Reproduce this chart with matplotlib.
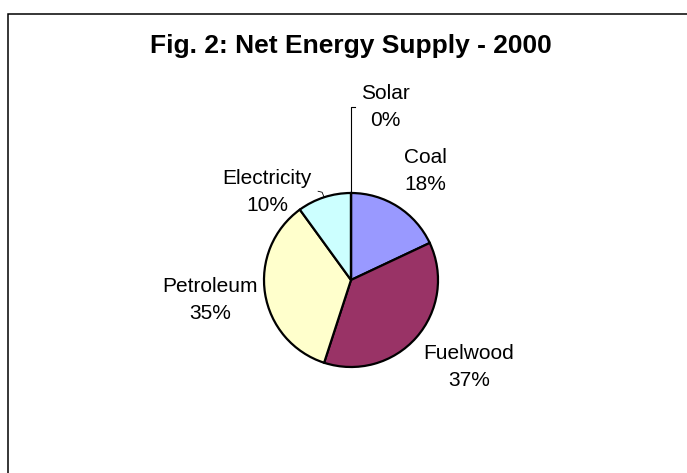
import numpy as np
import matplotlib
matplotlib.use("Agg")
import matplotlib.pyplot as plt

plt.rcParams['font.family'] = ['Liberation Sans', 'DejaVu Sans']

# data
categories = ["Coal", "Fuelwood", "Petroleum", "Electricity", "Solar"]
shares = [18, 37, 35, 10, 0]
colors = ["#9999FF", "#993366", "#FFFFCC", "#CCFFFF", "#FFFFFF"]
title = "Fig. 2: Net Energy Supply - 2000"

# layout (pixel coords, y measured from bottom)
W, H = 687, 473
cx, cy, R = 351, H - 280, 87
label_xy = {
    "Coal": (425, H - 171),
    "Fuelwood": (469, H - 367),
    "Petroleum": (210, H - 300),
    "Electricity": (267, H - 192),
    "Solar": (385, H - 107),
}

fig = plt.figure(figsize=(W / 100, H / 100), dpi=100)
ax = fig.add_axes([0, 0, 1, 1])

# chart area border (only top and left visible)
ax.plot([8, 8, W], [0, H - 14, H - 14], color="black", lw=1.1, solid_joinstyle="miter")

wedges, _ = ax.pie(shares, colors=colors, startangle=90, counterclock=False,
                   center=(cx, cy), radius=R, frame=True,
                   wedgeprops=dict(edgecolor="black", linewidth=1.6))
ax.set_xlim(0, W)
ax.set_ylim(0, H)
ax.set_aspect("equal")
ax.axis("off")

total = sum(shares)
for name, val in zip(categories, shares):
    pct = f"{round(100 * val / total)}%"
    x, y = label_xy[name]
    ax.text(x, y, f"{name}\n{pct}", ha="center", va="center", fontsize=15,
            linespacing=1.58)

# leader lines for the small slices
def edge_point(frac):
    ang = np.deg2rad(90 - 360 * frac)
    return cx + R * np.cos(ang), cy + R * np.sin(ang)

cum = np.cumsum([0] + shares) / total
# solar
sx, sy = edge_point(cum[4])
ax.plot([sx, sx, sx + 4], [sy, H - 107, H - 107], color="black", lw=0.8)
# electricity
ex, ey = edge_point((cum[3] + cum[4]) / 2)
ax.plot([ex - 6, ex - 2, ex], [ey + 6, ey + 5, ey], color="black", lw=0.6)

ax.text(cx, H - 46, title, ha="center", va="center", fontsize=19,
        fontweight="bold")

fig.savefig("out.png", dpi=100)
